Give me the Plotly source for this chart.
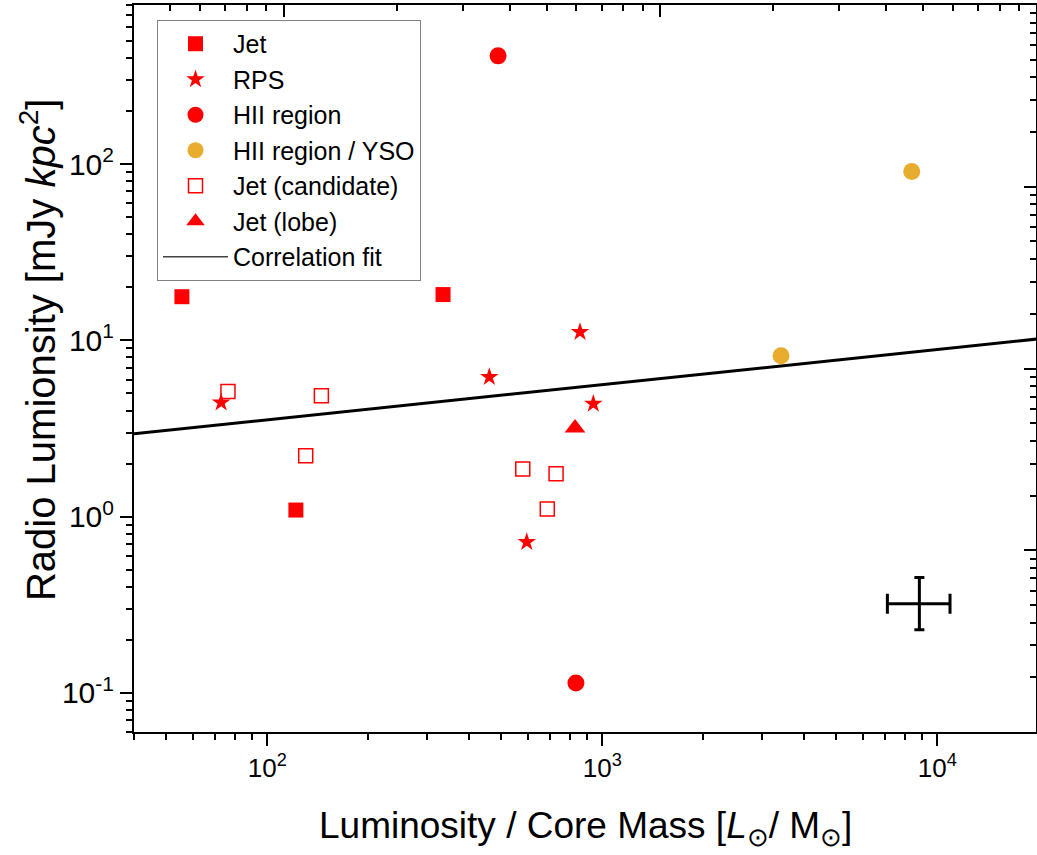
import plotly.graph_objects as go

# ---------------- data ----------------
jet_x = [55.6, 121.7, 334.6]
jet_y = [17.7, 1.09, 18.2]

rps_x = [72.8, 459.9, 857.9, 940.0, 594.9]
rps_y = [4.44, 6.19, 11.15, 4.37, 0.718]

hii_x = [488.4, 834.0]
hii_y = [411.5, 0.1139]

yso_x = [3415.0, 8386.0]
yso_y = [8.18, 90.8]

cand_x = [76.3, 145.0, 130.2, 578.8, 727.6, 685.0]
cand_y = [5.13, 4.85, 2.215, 1.862, 1.751, 1.104]

lobe_x = [828.8]
lobe_y = [3.18]

fit_x = [40.0, 20000.0]
fit_y = [2.95, 10.2]

err_x = [8838.0]
err_y = [0.3206]
err_x_plus = [2072.0]
err_x_minus = [1744.0]
err_y_plus = [0.1312]
err_y_minus = [0.0922]

x_tick_vals = [100, 1000, 10000]
x_tick_text = ["10<sup>2</sup>", "10<sup>3</sup>", "10<sup>4</sup>"]
y_tick_vals = [0.1, 1, 10, 100]
y_tick_text = ["10<sup>-1</sup>", "10<sup>0</sup>", "10<sup>1</sup>", "10<sup>2</sup>"]

RED = "#ff0000"
GOLD = "#e8ac2e"
FONT = "Liberation Sans, Arial, sans-serif"


def minor_vals(d0, d1):
    return [k * 10 ** d for d in range(d0, d1) for k in range(2, 10)]


fig = go.Figure()

# correlation fit (drawn first, below markers)
fig.add_trace(go.Scatter(x=fit_x, y=fit_y, mode="lines",
                         line=dict(color="black", width=3),
                         showlegend=False, hoverinfo="skip"))

fig.add_trace(go.Scatter(x=jet_x, y=jet_y, mode="markers", name="Jet",
                         marker=dict(symbol="square", size=15, color=RED, line=dict(width=0))))
fig.add_trace(go.Scatter(x=rps_x, y=rps_y, mode="markers", name="RPS",
                         marker=dict(symbol="star", size=14, color=RED, line=dict(width=0))))
fig.add_trace(go.Scatter(x=hii_x, y=hii_y, mode="markers", name="HII region",
                         marker=dict(symbol="circle", size=17, color=RED, line=dict(width=0))))
fig.add_trace(go.Scatter(x=yso_x, y=yso_y, mode="markers", name="HII region / YSO",
                         marker=dict(symbol="circle", size=17, color=GOLD, line=dict(width=0))))
fig.add_trace(go.Scatter(x=cand_x, y=cand_y, mode="markers", name="Jet (candidate)",
                         marker=dict(symbol="square-open", size=14, color=RED,
                                     line=dict(width=1.5, color=RED))))
fig.add_trace(go.Scatter(x=lobe_x, y=lobe_y, mode="markers", name="Jet (lobe)",
                         marker=dict(symbol="triangle-up", size=18, color=RED, line=dict(width=0))))
# legend entry for the fit (thin line, as in the reference legend)
fig.add_trace(go.Scatter(x=[None], y=[None], mode="lines", name="Correlation fit",
                         line=dict(color="#444444", width=1.5),
                         xaxis="x2", yaxis="y2"))

# representative error bar
fig.add_trace(go.Scatter(x=err_x, y=err_y, mode="markers", showlegend=False,
                         marker=dict(size=1, color="rgba(0,0,0,0)"),
                         error_x=dict(type="data", symmetric=False, array=err_x_plus,
                                      arrayminus=err_x_minus, color="black",
                                      thickness=3, width=10),
                         error_y=dict(type="data", symmetric=False, array=err_y_plus,
                                      arrayminus=err_y_minus, color="black",
                                      thickness=3, width=5),
                         hoverinfo="skip"))

axis_common = dict(type="log", showgrid=False, zeroline=False, showline=True,
                   linecolor="black", linewidth=2, tickcolor="black", tickwidth=2)

fig.update_layout(
    width=1037, height=855,
    margin=dict(l=134, r=1, t=5, b=123),
    paper_bgcolor="white", plot_bgcolor="white",
    font=dict(family=FONT, color="black"),
    xaxis=dict(**axis_common, range=[1.60206, 4.2945], ticks="outside", ticklen=12,
               tickmode="array", tickvals=x_tick_vals, ticktext=x_tick_text,
               tickfont=dict(size=26, family=FONT),
               minor=dict(ticks="outside", ticklen=6, tickwidth=2, tickcolor="black",
                          tickmode="array", tickvals=minor_vals(1, 5))),
    yaxis=dict(**axis_common, range=[-1.2218, 2.903], ticks="outside", ticklen=12,
               tickmode="array", tickvals=y_tick_vals, ticktext=y_tick_text,
               tickfont=dict(size=30, family=FONT),
               minor=dict(ticks="outside", ticklen=6, tickwidth=2, tickcolor="black",
                          tickmode="array", tickvals=minor_vals(-2, 3))),
    xaxis2=dict(**axis_common, overlaying="x", side="top", anchor="y",
                range=[1.60206, 4.0], ticks="inside", ticklen=12,
                tickmode="array", tickvals=[100, 1000], showticklabels=False,
                minor=dict(ticks="inside", ticklen=6, tickwidth=2, tickcolor="black",
                           tickmode="array", tickvals=minor_vals(1, 4))),
    yaxis2=dict(**axis_common, overlaying="y", side="right", anchor="x",
                range=[-1, 3], ticks="inside", ticklen=12,
                tickmode="array", tickvals=[0.1, 1, 10, 100], showticklabels=False,
                minor=dict(ticks="inside", ticklen=6, tickwidth=2, tickcolor="black",
                           tickmode="array", tickvals=minor_vals(-1, 3))),
    legend=dict(x=0.0255, y=0.9794, xanchor="left", yanchor="top",
                bgcolor="white", bordercolor="#808080", borderwidth=1,
                font=dict(size=25, family=FONT, color="black"),
                itemwidth=65, tracegroupgap=0),
    annotations=[
        dict(text="Luminosity / Core Mass [<i>L</i><sub>⊙</sub>/ M<sub>⊙</sub>]",
             xref="paper", yref="paper", x=0.501, y=-0.132,
             xanchor="center", yanchor="middle", showarrow=False,
             font=dict(size=37, family=FONT, color="black")),
        dict(text="Radio Lumionsity [mJy <i>kpc</i><sup>2</sup>]",
             xref="paper", yref="paper", x=-0.1064, y=0.5254, textangle=-90,
             xanchor="center", yanchor="middle", showarrow=False,
             font=dict(size=40, family=FONT, color="black")),
    ],
)

fig.write_html("out.html")
